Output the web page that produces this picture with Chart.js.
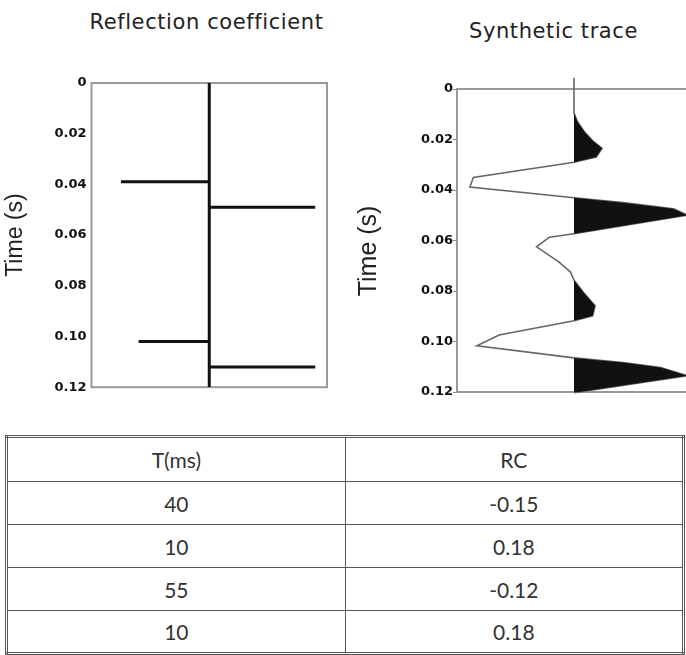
<!DOCTYPE html>
<html>
<head>
<meta charset="utf-8">
<script src="https://cdn.jsdelivr.net/npm/chart.js@4.4.1/dist/chart.umd.min.js"></script>
<style>
  html, body { margin: 0; padding: 0; background: #fff; }
  body { position: relative; width: 686px; height: 655px; overflow: hidden; }
  .title {
    position: absolute;
    font-family: "DejaVu Sans", sans-serif;
    font-size: 21px;
    line-height: 21px;
    letter-spacing: 0.6px;
    color: #222;
    text-align: center;
    white-space: nowrap;
  }
  canvas { position: absolute; top: 0; }
  #rcChart { left: 0; }
  #traceChart { left: 345px; }
  table {
    position: absolute;
    left: 5px;
    top: 435px;
    width: 680px;
    border-collapse: collapse;
    border: 3px double #555;
    font-family: Lato, "Open Sans", sans-serif;
    font-size: 21px;
    color: #333;
  }
  td { border: 1px solid #555; text-align: center; padding: 0; }
  tr { height: 43px; }
  tr.head { height: 45px; }
</style>
</head>
<body>

<div class="title" style="left:60px; width:293px; top:12px;">Reflection coefficient</div>
<div class="title" style="left:453px; width:201px; top:21px;">Synthetic trace</div>

<canvas id="rcChart" width="340" height="400"></canvas>
<canvas id="traceChart" width="360" height="410"></canvas>

<table id="rcTable"></table>

<script>
// reflection coefficients (spike times, seconds)
const spikeTimes = [0.039, 0.049, 0.102, 0.112];
const rcValues = [-0.15, 0.18, -0.12, 0.18];

// table columns
const intervalMs = [40, 10, 55, 10];
const rcLabels = ["-0.15", "0.18", "-0.12", "0.18"];

// time axis
const timeTicks = [0, 0.02, 0.04, 0.06, 0.08, 0.10, 0.12];
const timeTickLabels = ["0", "0.02", "0.04", "0.06", "0.08", "0.10", "0.12"];

// synthetic trace (time s, amplitude)
const traceTime = [-0.0045, 0, 0.0095, 0.013, 0.017, 0.0205, 0.0235, 0.0269, 0.029,
    0.035, 0.0388, 0.0431, 0.045, 0.0474, 0.050, 0.0573, 0.0587, 0.0625, 0.0685,
    0.0725, 0.0757, 0.0805, 0.0858, 0.0898, 0.0918, 0.0974, 0.1017, 0.1065,
    0.1083, 0.1103, 0.1136, 0.1203, 0.121];
const traceAmp = [0, 0, 0, 0.03, 0.09, 0.16, 0.24, 0.19, 0,
    -0.86, -0.89, 0, 0.42, 0.85, 0.97, 0, -0.21, -0.32, -0.13,
    -0.03, 0, 0.08, 0.18, 0.16, 0, -0.64, -0.83, 0,
    0.42, 0.74, 0.97, 0, -0.1];

const tickFont = { family: "DejaVu Sans", size: 13, weight: "bold" };

// grey box round the plot area, drawn under the data
const frame = {
    id: "frame",
    beforeDatasetsDraw(chart) {
        const { ctx, chartArea: a } = chart;
        ctx.save();
        ctx.strokeStyle = "#999";
        ctx.lineWidth = 2;
        ctx.strokeRect(a.left, a.top, a.right - a.left, a.bottom - a.top);
        ctx.restore();
    }
};

function timeAxis(width, titleText, titleSize, titlePad, tickLen, tickPad) {
    return {
        type: "linear",
        reverse: true,
        min: 0,
        max: 0.12,
        afterBuildTicks: s => { s.ticks = timeTicks.map(v => ({ value: v })); },
        afterFit: s => { s.width = width; },
        ticks: {
            autoSkip: false,
            padding: tickPad,
            color: "#111",
            font: tickFont,
            callback: (v, i) => timeTickLabels[i]
        },
        grid: {
            display: tickLen > 0,
            drawOnChartArea: false,
            drawTicks: tickLen > 0,
            tickLength: tickLen,
            color: "#888"
        },
        border: { display: false },
        title: {
            display: true,
            text: titleText,
            color: "#222",
            padding: { top: titlePad, bottom: 0 },
            font: { family: "Liberation Sans", size: titleSize }
        }
    };
}

// Reflection coefficient
const rcSets = [{
    data: [{ x: 0, y: 0 }, { x: 0, y: 0.12 }],
    borderColor: "#111",
    borderWidth: 3,
    pointRadius: 0,
    showLine: true
}];
spikeTimes.forEach((t, i) => {
    rcSets.push({
        data: [{ x: 0, y: t }, { x: rcValues[i], y: t }],
        borderColor: "#111",
        borderWidth: 3,
        pointRadius: 0,
        showLine: true
    });
});

new Chart(document.getElementById("rcChart"), {
    type: "scatter",
    data: { datasets: rcSets },
    options: {
        responsive: false,
        animation: false,
        events: [],
        layout: { padding: { top: 83, bottom: 12, right: 13, left: 0 } },
        plugins: { legend: { display: false }, tooltip: { enabled: false } },
        scales: {
            x: { type: "linear", min: -0.2, max: 0.2, display: false },
            y: timeAxis(91.5, "Time (s)", 23, 2, 0, 5)
        }
    },
    plugins: [frame]
});

// Synthetic trace
const tracePts = traceTime.map((t, i) => ({ x: traceAmp[i], y: t }));
const posPts = traceTime.map((t, i) => ({ x: Math.max(traceAmp[i], 0), y: t }));

new Chart(document.getElementById("traceChart"), {
    type: "line",
    data: {
        datasets: [
            {
                // positive lobes, filled black
                data: posPts,
                borderWidth: 0,
                pointRadius: 0,
                backgroundColor: "#111",
                fill: { target: { value: 0 } }
            },
            {
                data: tracePts,
                borderColor: "#666",
                borderWidth: 1.6,
                pointRadius: 0,
                fill: false,
                clip: false
            }
        ]
    },
    options: {
        indexAxis: "y",
        responsive: false,
        animation: false,
        events: [],
        layout: { padding: { top: 89, bottom: 18, right: 14, left: 0 } },
        plugins: { legend: { display: false }, tooltip: { enabled: false } },
        scales: {
            x: { type: "linear", min: -1, max: 1, display: false },
            // trailing spaces push the label a little below the middle, as in the original
            y: timeAxis(112, "Time (s)   ", 25, 9, 4, 0)
        }
    },
    plugins: [frame]
});

// table
const table = document.getElementById("rcTable");
let rows = '<tr class="head"><td>T(ms)</td><td>RC</td></tr>';
intervalMs.forEach((ms, i) => {
    rows += "<tr><td>" + ms + "</td><td>" + rcLabels[i] + "</td></tr>";
});
table.innerHTML = rows;
</script>
</body>
</html>
